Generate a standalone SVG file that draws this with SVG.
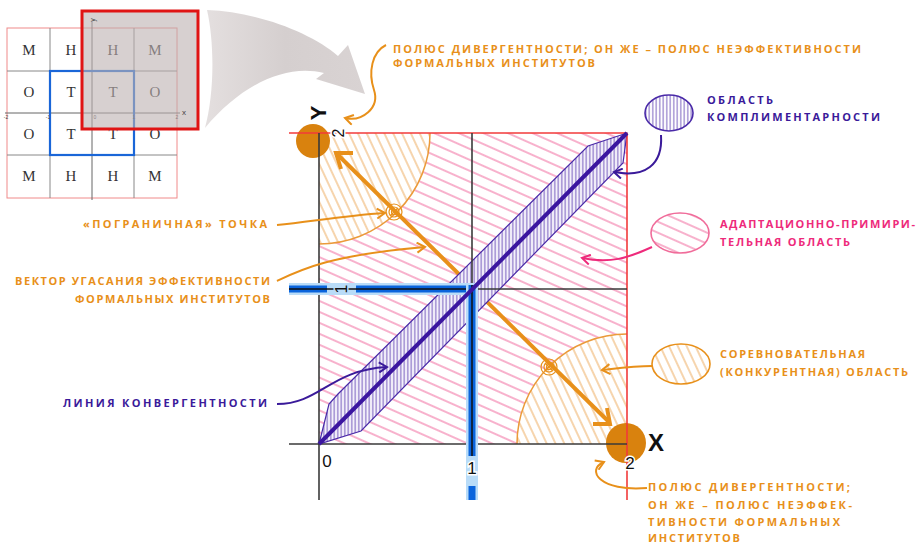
<svg xmlns="http://www.w3.org/2000/svg" width="918" height="547" viewBox="0 0 918 547">
<style>
.lbl{font-family:"Open Sans","DejaVu Sans",sans-serif;font-weight:700;font-size:11px;}
.or{fill:#e8901a;}
.pu{fill:#3a1a9a;}
.pk{fill:#ee2a7b;}
.cell{font-family:"Liberation Serif",serif;font-size:15px;fill:#333;text-anchor:middle;}
.tiny{font-family:"Liberation Sans",sans-serif;font-size:5px;fill:#444;text-anchor:middle;}
.ax{font-family:"Liberation Sans",sans-serif;fill:#111;text-anchor:middle;paint-order:stroke;stroke:#fff;stroke-width:3px;}
.ldo{fill:none;stroke:#e8901a;stroke-width:2;marker-end:url(#ao);}
.ldp{fill:none;stroke:#3a1a9a;stroke-width:2;marker-end:url(#ap);}
.ldk{fill:none;stroke:#ee2a7b;stroke-width:2;marker-end:url(#ak);}
.blk{stroke:#3a3a3a;stroke-width:1.6;fill:none;}
</style>
<defs>
<pattern id="pinkH" width="10" height="10" patternUnits="userSpaceOnUse" patternTransform="rotate(24)">
<line x1="0" y1="5" x2="10" y2="5" stroke="#f0649a" stroke-width="1"/>
</pattern>
<pattern id="orH" width="8" height="8" patternUnits="userSpaceOnUse" patternTransform="rotate(-25)">
<line x1="4" y1="0" x2="4" y2="8" stroke="#eba048" stroke-width="0.9"/>
</pattern>
<pattern id="puH" width="3.5" height="4" patternUnits="userSpaceOnUse">
<line x1="1.75" y1="0" x2="1.75" y2="4" stroke="#4a2aa8" stroke-width="0.8"/>
</pattern>
<linearGradient id="swg" x1="0" y1="0" x2="1" y2="0">
<stop offset="0" stop-color="#e4dfdf"/>
<stop offset="0.5" stop-color="#d5cfcf"/>
<stop offset="1" stop-color="#d9d3d3"/>
</linearGradient>
<marker id="ao" viewBox="0 0 12 12" refX="10" refY="6" markerWidth="12" markerHeight="12" markerUnits="userSpaceOnUse" orient="auto">
<path d="M2,1 L10,6 L2,11" fill="none" stroke="#e8901a" stroke-width="2"/>
</marker>
<marker id="ap" viewBox="0 0 12 12" refX="10" refY="6" markerWidth="12" markerHeight="12" markerUnits="userSpaceOnUse" orient="auto">
<path d="M2,1 L10,6 L2,11" fill="none" stroke="#3a1a9a" stroke-width="2"/>
</marker>
<marker id="ak" viewBox="0 0 12 12" refX="10" refY="6" markerWidth="12" markerHeight="12" markerUnits="userSpaceOnUse" orient="auto">
<path d="M2,1 L10,6 L2,11" fill="none" stroke="#ee2a7b" stroke-width="2"/>
</marker>
</defs>
<rect width="918" height="547" fill="#fff"/>

<!-- thumbnail grid -->
<g id="thumb">
<rect x="7" y="28" width="170" height="170" fill="#fff" stroke="#f08a8a" stroke-width="1"/>
<g stroke="#888" stroke-width="1">
<line x1="50" y1="28" x2="50" y2="198"/><line x1="134" y1="28" x2="134" y2="198"/>
<line x1="7" y1="71" x2="177" y2="71"/><line x1="7" y1="155" x2="177" y2="155"/>
</g>
<g stroke="#666" stroke-width="1">
<line x1="92" y1="22" x2="92" y2="200"/><line x1="5" y1="113" x2="180" y2="113"/>
</g>
<rect x="50" y="71" width="84" height="84" fill="none" stroke="#1a66d8" stroke-width="2.2"/>
<text class="cell" x="29" y="55">М</text><text class="cell" x="71" y="55">Н</text><text class="cell" x="113" y="55">Н</text><text class="cell" x="155" y="55">М</text>
<text class="cell" x="29" y="97">О</text><text class="cell" x="71" y="97">Т</text><text class="cell" x="113" y="97">Т</text><text class="cell" x="155" y="97">О</text>
<text class="cell" x="29" y="139">О</text><text class="cell" x="71" y="139">Т</text><text class="cell" x="113" y="139">Т</text><text class="cell" x="155" y="139">О</text>
<text class="cell" x="29" y="181">М</text><text class="cell" x="71" y="181">Н</text><text class="cell" x="113" y="181">Н</text><text class="cell" x="155" y="181">М</text>
<text class="tiny" x="6" y="119">-2</text><text class="tiny" x="48" y="119">-1</text><text class="tiny" x="95" y="119">0</text><text class="tiny" x="134" y="119">1</text><text class="tiny" x="177" y="119">2</text>
<rect x="82" y="11" width="116" height="118" fill="#bdb0b0" fill-opacity="0.6" stroke="#e01414" stroke-width="3"/>
<text class="tiny" x="184" y="115" style="font-size:8px">x</text>
<text class="tiny" x="93" y="22" style="font-size:7px" transform="rotate(-90 93 20)">y</text>
</g>

<!-- gray swoosh arrow -->
<path id="swoosh" d="M207,10 C258,12 312,33 338,56 L348,45 L365,94 L316,79 L324,73 C285,63 240,86 205,128 C214,95 215,45 207,10 Z" fill="url(#swg)"/>

<!-- main plot -->
<g id="regions">
<rect x="319" y="133" width="308" height="311" fill="url(#pinkH)"/>
<path d="M319,133 L430,133 A111,111 0 0 1 319,244 Z" fill="#fff"/>
<path d="M319,133 L430,133 A111,111 0 0 1 319,244 Z" fill="url(#orH)"/>
<path d="M430,133 A111,111 0 0 1 319,244" fill="none" stroke="#eb9a3a" stroke-width="1.5"/>
<path d="M627,444 L517,444 A110,110 0 0 1 627,334 Z" fill="#fff"/>
<path d="M627,444 L517,444 A110,110 0 0 1 627,334 Z" fill="url(#orH)"/>
<path d="M517,444 A110,110 0 0 1 627,334" fill="none" stroke="#eb9a3a" stroke-width="1.5"/>
</g>

<g id="poles">
<circle cx="313" cy="141" r="17" fill="#d9820e"/>
<circle cx="626" cy="443" r="20" fill="#d9820e"/>
</g>

<g id="connectors">
<line x1="336" y1="153" x2="609" y2="422" stroke="#e8901a" stroke-width="4"/>
<path d="M353,153 L336,153 L341,169" fill="none" stroke="#e8901a" stroke-width="4"/>
<path d="M593,424 L610,424 L607,408" fill="none" stroke="#e8901a" stroke-width="4"/>
</g>

<g id="band">
<polygon points="319,444 329,404 338,394 588,146 627,133 623,163 361,431" fill="#f4f1fb"/>
<polygon points="319,444 329,404 338,394 588,146 627,133 623,163 361,431" fill="url(#puH)" stroke="#4a2aa8" stroke-width="1.2"/>
</g>

<g id="axes">
<line x1="289" y1="133" x2="627" y2="133" stroke="#f23a3a" stroke-width="1.6"/>
<line x1="627" y1="133" x2="627" y2="500" stroke="#f23a3a" stroke-width="1.6"/>
<line class="blk" x1="319" y1="133" x2="319" y2="500" stroke-width="2"/>
<line class="blk" x1="289" y1="444" x2="627" y2="444" stroke-width="2"/>
<line class="blk" x1="472" y1="133" x2="472" y2="444"/>
<line class="blk" x1="319" y1="289" x2="627" y2="289"/>
<line x1="289" y1="289" x2="476" y2="289" stroke="#b9dcf8" stroke-width="12"/>
<line x1="289" y1="289" x2="327" y2="289" stroke="#0a64dc" stroke-width="7"/>
<line x1="356" y1="289" x2="476" y2="289" stroke="#0a64dc" stroke-width="7"/>
<line x1="289" y1="289" x2="476" y2="289" stroke="#111" stroke-width="1.5"/>
<line x1="472" y1="285" x2="472" y2="500" stroke="#b9dcf8" stroke-width="12"/>
<line x1="472" y1="285" x2="472" y2="456" stroke="#0a64dc" stroke-width="7"/>
<line x1="472" y1="486" x2="472" y2="500" stroke="#0a64dc" stroke-width="7"/>
<line x1="472" y1="285" x2="472" y2="456" stroke="#111" stroke-width="1.5"/>
<line x1="319" y1="444" x2="627" y2="133" stroke="#3b16a0" stroke-width="4"/>
</g>

<g id="targets" fill="none" stroke="#e8901a" stroke-width="1.2">
<circle cx="394" cy="212" r="8"/><circle cx="394" cy="212" r="5"/><circle cx="394" cy="212" r="2.5"/>
<path d="M390,208 L398,216 M398,208 L390,216"/>
<circle cx="549" cy="367" r="8"/><circle cx="549" cy="367" r="5"/><circle cx="549" cy="367" r="2.5"/>
<path d="M545,363 L553,371 M553,363 L545,371"/>
</g>

<g id="axislabels">
<text class="ax" x="327" y="467" style="font-size:17px">0</text>
<text class="ax" x="472" y="474" style="font-size:17px">1</text>
<text class="ax" x="630" y="469" style="font-size:17px">2</text>
<text x="648" y="451" style="font-family:'Liberation Sans',sans-serif;font-weight:700;font-size:24px;fill:#111">X</text>
<text x="318" y="121" style="font-family:'Liberation Sans',sans-serif;font-weight:700;font-size:22px;fill:#111;text-anchor:middle" transform="rotate(-90 318 113)">Y</text>
<text class="ax" x="338" y="139" style="font-size:16px" transform="rotate(-90 338 133)">2</text>
<text class="ax" x="341" y="295" style="font-size:16px;stroke:#b9dcf8" transform="rotate(-90 341 289)">1</text>
</g>

<g id="legend-complement">
<ellipse cx="669" cy="113" rx="24" ry="18" fill="url(#puH)" stroke="#4a2aa8" stroke-width="1.6"/>
<text class="lbl pu" x="707" y="104" textLength="66" lengthAdjust="spacing">ОБЛАСТЬ</text>
<text class="lbl pu" x="707" y="121" textLength="173" lengthAdjust="spacing">КОМПЛИМЕНТАРНОСТИ</text>
</g>
<g id="legend-adapt">
<ellipse cx="680" cy="233" rx="29" ry="20" fill="url(#pinkH)" stroke="#f06c9a" stroke-width="1.6"/>
<text class="lbl pk" x="720" y="228" textLength="195" lengthAdjust="spacing">АДАПТАЦИОННО-ПРИМИРИ-</text>
<text class="lbl pk" x="720" y="246" textLength="130" lengthAdjust="spacing">ТЕЛЬНАЯ ОБЛАСТЬ</text>
</g>
<g id="legend-compet">
<ellipse cx="681" cy="364" rx="29" ry="20" fill="url(#orH)" stroke="#e8901a" stroke-width="1.6"/>
<text class="lbl or" x="720" y="358" textLength="145" lengthAdjust="spacing">СОРЕВНОВАТЕЛЬНАЯ</text>
<text class="lbl or" x="720" y="376" textLength="188" lengthAdjust="spacing">(КОНКУРЕНТНАЯ) ОБЛАСТЬ</text>
</g>
<g id="label-pole-top">
<text class="lbl or" x="393" y="53" textLength="468" lengthAdjust="spacing">ПОЛЮС ДИВЕРГЕНТНОСТИ; ОН ЖЕ – ПОЛЮС НЕЭФФЕКТИВНОСТИ</text>
<text class="lbl or" x="393" y="67" textLength="202" lengthAdjust="spacing">ФОРМАЛЬНЫХ ИНСТИТУТОВ</text>
</g>
<g id="label-border">
<text class="lbl or" x="83" y="228" textLength="184" lengthAdjust="spacing">«ПОГРАНИЧНАЯ» ТОЧКА</text>
</g>
<g id="label-vector">
<text class="lbl or" x="15" y="285" textLength="255" lengthAdjust="spacing">ВЕКТОР УГАСАНИЯ ЭФФЕКТИВНОСТИ</text>
<text class="lbl or" x="75" y="303" textLength="195" lengthAdjust="spacing">ФОРМАЛЬНЫХ ИНСТИТУТОВ</text>
</g>
<g id="label-conv">
<text class="lbl pu" x="63" y="407" textLength="204" lengthAdjust="spacing">ЛИНИЯ КОНВЕРГЕНТНОСТИ</text>
</g>
<g id="label-pole-bottom">
<text class="lbl or" x="648" y="491" textLength="202" lengthAdjust="spacing">ПОЛЮС ДИВЕРГЕНТНОСТИ;</text>
<text class="lbl or" x="648" y="509" textLength="204" lengthAdjust="spacing">ОН ЖЕ – ПОЛЮС НЕЭФФЕК-</text>
<text class="lbl or" x="648" y="526" textLength="192" lengthAdjust="spacing">ТИВНОСТИ ФОРМАЛЬНЫХ</text>
<text class="lbl or" x="648" y="542" textLength="92" lengthAdjust="spacing">ИНСТИТУТОВ</text>
</g>

<g id="leaders">
<path class="ldo" d="M386,45 C372,52 368,72 374,90 C380,108 362,122 345,118"/>
<path class="ldo" d="M277,225 C310,222 340,216 385,213"/>
<path class="ldo" d="M277,281 C300,270 330,255 425,247"/>
<path class="ldp" d="M277,404 C320,404 330,370 387,367"/>
<path class="ldp" d="M661,135 C663,165 645,178 614,172"/>
<path class="ldk" d="M652,247 C628,258 610,264 582,258"/>
<path class="ldo" d="M652,366 C635,366 620,368 602,370"/>
<path class="ldo" d="M647,488 C600,492 585,470 604,462"/>
</g>
</svg>
